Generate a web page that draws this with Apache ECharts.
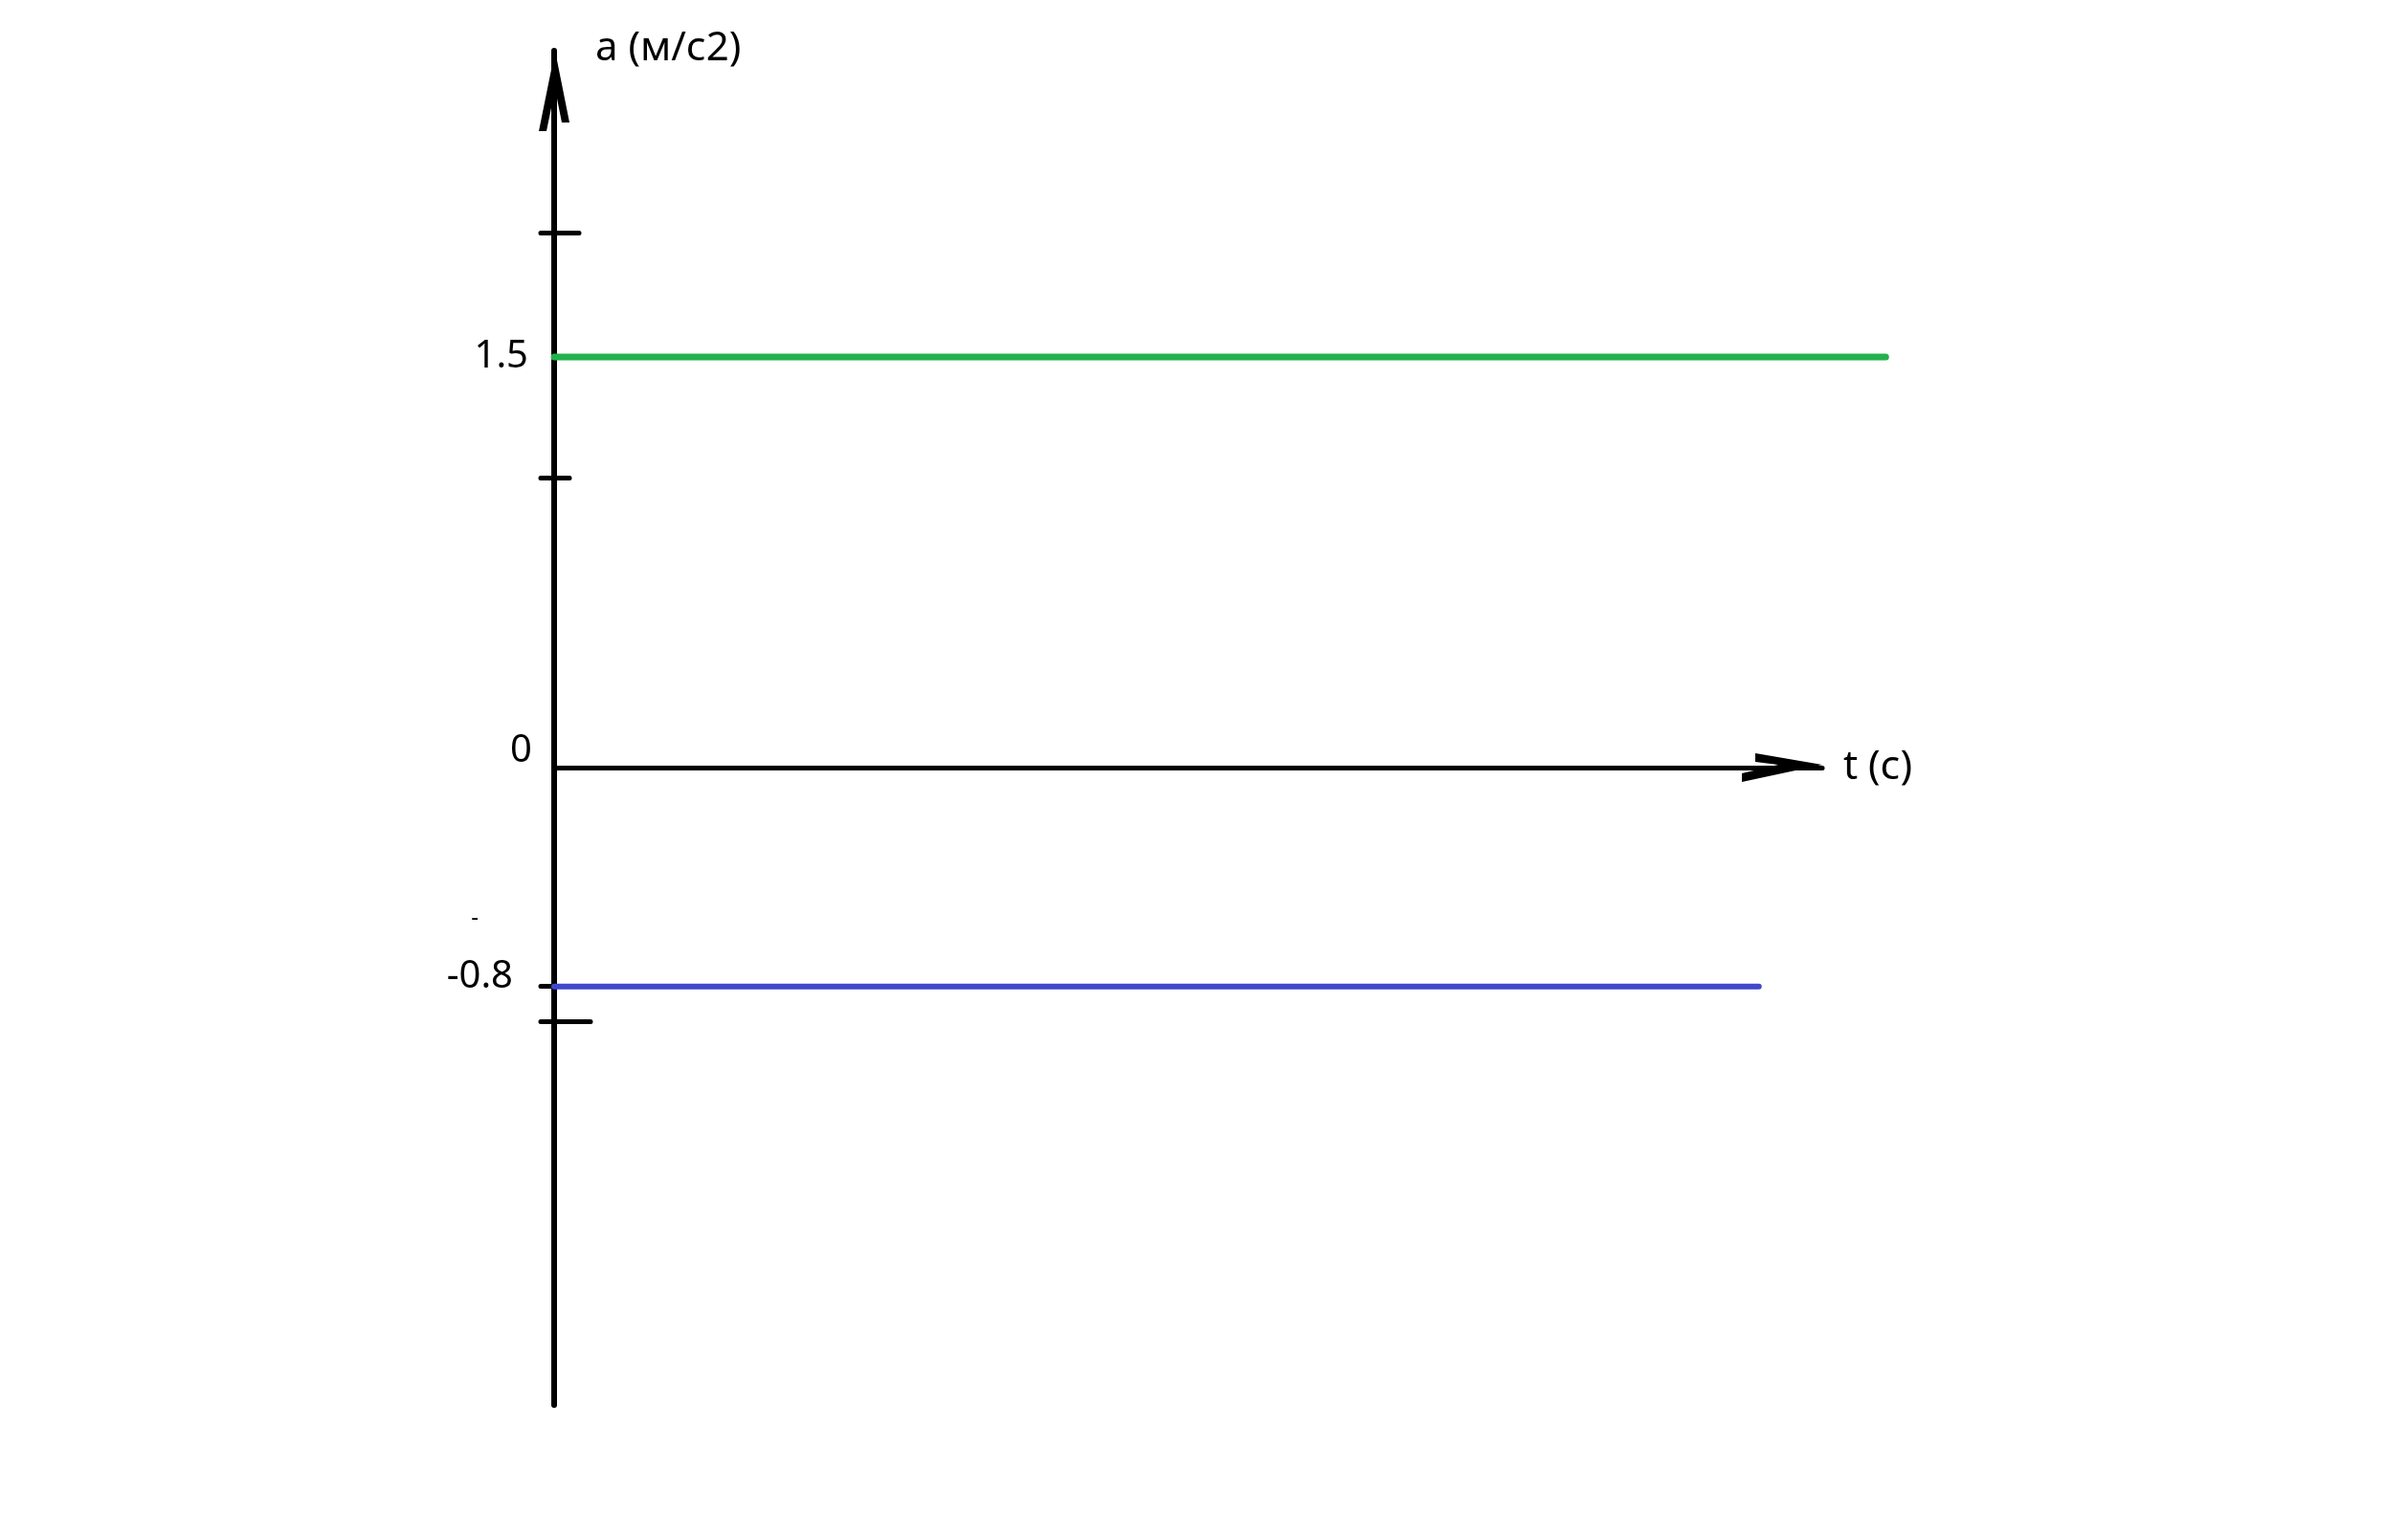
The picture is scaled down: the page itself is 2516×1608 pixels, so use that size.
<!DOCTYPE html>
<html>
<head>
<meta charset="utf-8">
<script src="https://cdn.jsdelivr.net/npm/echarts@6/dist/echarts.min.js"></script>
<style>
html,body{margin:0;padding:0;background:#fff;}
#chart{width:2516px;height:1608px;}
</style>
</head>
<body>
<div id="chart"></div>
<script>
// ---- data ----
const greenT = [0, 10.5];
const greenA = [1.5, 1.5];
const blueT = [0, 9.5];
const blueA = [-0.8, -0.8];
const yLabelValues = [1.5, 0, -0.55, -0.8];
const yTickLabels = ['1.5', '0', '-', '-0.8'];
const yTickValues = [1.955, 1.059, -0.8, -0.927];
const xRange = [0, 10];
const yRange = [-2.329, 2.619];

// ---- layout ----
const FONT = 'Noto Sans';
const W = 2516;
const GRID_LEFT = 579, AXIS_END_X = 1904, DATA_END_X = 2100, GRID_TOP = 53, GRID_BOTTOM = 140;
// wider data grid (same scale) so series are not clipped at the axis arrow
const xMaxData = xRange[1] * (DATA_END_X - GRID_LEFT) / (AXIS_END_X - GRID_LEFT);

const ARROW_Y = 'path://M17,0 L32,75 L24,75 L17,40 L8,84 L0,84 Z';
const ARROW_X = 'path://M12,0 L30,84 L21,84 L12,46 L9,70 L0,70 Z';

function nearest(v) {
  let best = 0;
  for (let i = 1; i < yLabelValues.length; i++) {
    if (Math.abs(yLabelValues[i] - v) < Math.abs(yLabelValues[best] - v)) best = i;
  }
  return best;
}

function innerTickAxis(val, len) {
  return {
    gridIndex: 0, type: 'value', position: 'left', min: yRange[0], max: yRange[1],
    axisLine: { show: false }, axisLabel: { show: false }, splitLine: { show: false },
    axisTick: { show: true, inside: true, length: len, customValues: [val],
      lineStyle: { color: '#000', width: 5, cap: 'round' } }
  };
}

const hiddenAxis = { show: false, axisLine: { show: false }, axisTick: { show: false }, axisLabel: { show: false }, splitLine: { show: false } };

const chart = echarts.init(document.getElementById('chart'), null, { renderer: 'canvas' });
chart.setOption({
  backgroundColor: '#fff',
  animation: false,
  grid: [
    { left: GRID_LEFT, right: W - AXIS_END_X, top: GRID_TOP, bottom: GRID_BOTTOM, containLabel: false },
    { left: GRID_LEFT, right: W - DATA_END_X, top: GRID_TOP, bottom: GRID_BOTTOM, containLabel: false }
  ],
  xAxis: [
    {
      gridIndex: 0, type: 'value', min: xRange[0], max: xRange[1],
      name: 't (с)', nameLocation: 'end', nameGap: 22,
      nameTextStyle: { color: '#000', fontFamily: FONT, fontSize: 42, align: 'left', verticalAlign: 'middle', padding: [16, 0, 0, 0] },
      axisLine: { show: true, onZero: true, symbol: ['none', ARROW_X], symbolSize: [30, 84], symbolOffset: [0, -42],
        lineStyle: { color: '#000', width: 5 } },
      axisTick: { show: false }, axisLabel: { show: false }, splitLine: { show: false }
    },
    Object.assign({ gridIndex: 1, type: 'value', min: xRange[0], max: xMaxData }, hiddenAxis)
  ],
  yAxis: [
    {
      gridIndex: 0, type: 'value', position: 'left', min: yRange[0], max: yRange[1],
      name: 'a (м/с2)', nameLocation: 'end', nameGap: 2,
      nameTextStyle: { color: '#000', fontFamily: FONT, fontSize: 42, align: 'left', verticalAlign: 'middle', padding: [0, 0, 0, 43] },
      axisLine: { show: true, onZero: false, symbol: ['none', ARROW_Y], symbolSize: [32, 84], symbolOffset: [0, -42],
        lineStyle: { color: '#000', width: 6 } },
      axisTick: { show: true, inside: false, length: 14, customValues: yTickValues,
        lineStyle: { color: '#000', width: 5, cap: 'round' } },
      axisLabel: {
        show: true, customValues: yLabelValues, margin: 23, color: '#000', fontFamily: FONT, fontSize: 40,
        formatter: function (v) { const i = nearest(v); return '{s' + i + '|' + yTickLabels[i] + '}'; },
        rich: {
          s0: { color: '#000', fontFamily: FONT, fontSize: 40, padding: [0, 4, 0, 0] },
          s1: { color: '#000', fontFamily: FONT, fontSize: 40, padding: [0, 0, 34, 0] },
          s2: { color: '#000', fontFamily: FONT, fontSize: 24, padding: [0, 56, 0, 0] },
          s3: { color: '#000', fontFamily: FONT, fontSize: 40, padding: [0, 20, 20, 0] }
        }
      },
      splitLine: { show: false }
    },
    innerTickAxis(yTickValues[0], 26),
    innerTickAxis(yTickValues[1], 16),
    innerTickAxis(yTickValues[3], 38),
    Object.assign({ gridIndex: 1, type: 'value', position: 'left', min: yRange[0], max: yRange[1] }, hiddenAxis)
  ],
  series: [
    {
      type: 'line', name: 'green', xAxisIndex: 1, yAxisIndex: 4, showSymbol: false, symbol: 'none',
      data: greenT.map((t, i) => [t, greenA[i]]),
      lineStyle: { color: '#22B14C', width: 7, cap: 'round' }, z: 3
    },
    {
      type: 'line', name: 'blue', xAxisIndex: 1, yAxisIndex: 4, showSymbol: false, symbol: 'none',
      data: blueT.map((t, i) => [t, blueA[i]]),
      lineStyle: { color: '#3F48CC', width: 6, cap: 'round' }, z: 3
    }
  ]
});
</script>
</body>
</html>
